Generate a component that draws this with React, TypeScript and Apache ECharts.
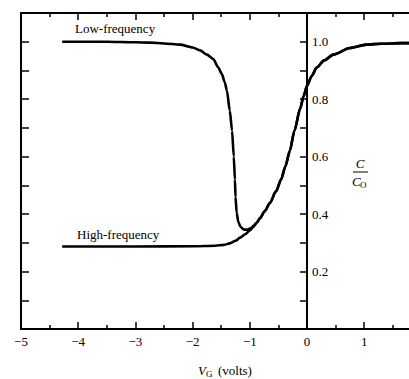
import React, { useEffect, useRef } from "react";
import * as echarts from "echarts";

// Tick values
const xTicks = [-5, -4, -3, -2, -1, 0, 1];
const yRightLabels = [0.2, 0.4, 0.6, 0.8, 1.0];

// Low-frequency branch (before it merges with the high-frequency curve)
const lowFreqX = [-4.28, -3.5, -3.0, -2.74, -2.5, -2.22, -2.0, -1.87, -1.75, -1.64, -1.55, -1.49, -1.44, -1.4, -1.35, -1.31, -1.28, -1.26, -1.25, -1.23, -1.2, -1.16, -1.1, -1.04, -0.98, -0.93];
const lowFreqC = [1.0, 1.0, 0.998, 0.997, 0.994, 0.99, 0.98, 0.97, 0.955, 0.94, 0.91, 0.888, 0.86, 0.83, 0.76, 0.69, 0.6, 0.52, 0.46, 0.405, 0.372, 0.355, 0.346, 0.346, 0.351, 0.36];

// High-frequency branch (before the merge)
const highFreqX = [-4.28, -3.0, -2.0, -1.6, -1.45, -1.35, -1.25, -1.17, -1.08, -1.0, -0.94];
const highFreqC = [0.287, 0.287, 0.288, 0.29, 0.293, 0.298, 0.307, 0.318, 0.33, 0.343, 0.355];

// Common part of both curves
const sharedX = [-0.88, -0.82, -0.74, -0.65, -0.54, -0.45, -0.38, -0.3, -0.22, -0.12, -0.06, 0, 0.08, 0.17, 0.3, 0.46, 0.75, 1.04, 1.3, 1.63, 2.0];
const sharedC = [0.37, 0.386, 0.41, 0.438, 0.48, 0.522, 0.565, 0.62, 0.69, 0.767, 0.81, 0.847, 0.88, 0.91, 0.935, 0.955, 0.978, 0.99, 0.993, 0.995, 0.996];

const pair = (xs: number[], ys: number[]) => xs.map((x, i) => [x, ys[i]]);

const FONT = "'Liberation Serif', 'Times New Roman', Times, serif";
const PX_PER_UNIT = 57.2;
const GRID_LEFT = 21;
const X_MIN = -5;
const X_MAX = 2;
const GRID_W = (X_MAX - X_MIN) * PX_PER_UNIT;
const ZERO_OFFSET = -(X_MAX - 0) * PX_PER_UNIT;

export default function App() {
  const ref = useRef<HTMLDivElement>(null);
  useEffect(() => {
    if (!ref.current) return;
    const chart = echarts.init(ref.current, undefined, { renderer: "svg" });
    const axisLine = { lineStyle: { color: "#000", width: 2 } };
    const fmtX = (v: number) => {
      const r = Math.round(v);
      if (Math.abs(v - r) > 1e-6 || !xTicks.includes(r)) return "";
      return r < 0 ? "\u2212" + Math.abs(r) : String(r);
    };
    const fmtYR = (v: number) => {
      const hit = yRightLabels.find((t) => Math.abs(t - v) < 1e-6);
      return hit === undefined ? "" : hit.toFixed(1);
    };
    const lowData = pair(lowFreqX, lowFreqC).concat(pair(sharedX, sharedC));
    const highData = pair(highFreqX, highFreqC).concat(pair(sharedX, sharedC));
    const lineSeries = (name: string, data: number[][]) => ({
      name,
      type: "line",
      data,
      showSymbol: false,
      smooth: 0.25,
      smoothMonotone: "x",
      lineStyle: { color: "#000", width: 2.6 },
      xAxisIndex: 0,
      yAxisIndex: 0,
    });
    chart.setOption({
      animation: false,
      backgroundColor: "#fff",
      grid: { left: GRID_LEFT, width: GRID_W, top: 13, bottom: 50, outerBoundsMode: "none", containLabel: false },
      xAxis: [
        {
          type: "value",
          position: "bottom",
          min: X_MIN,
          max: X_MAX,
          interval: 1,
          axisLine: { ...axisLine, onZero: false },
          axisTick: { inside: true, length: 7, lineStyle: { color: "#000", width: 1.5 } },
          minorTick: { show: true, splitNumber: 2, length: 4, lineStyle: { color: "#000", width: 1.5 } },
          splitLine: { show: false },
          axisLabel: { formatter: fmtX, color: "#000", fontFamily: FONT, fontSize: 13, margin: 6 },
        },
        {
          type: "value",
          position: "top",
          min: X_MIN,
          max: X_MAX,
          interval: 1,
          axisLine: { ...axisLine, onZero: false },
          axisTick: { inside: true, length: 7, lineStyle: { color: "#000", width: 1.5 } },
          minorTick: { show: true, splitNumber: 2, length: 4, lineStyle: { color: "#000", width: 1.5 } },
          splitLine: { show: false },
          axisLabel: { show: false },
        },
      ],
      yAxis: [
        {
          type: "value",
          position: "left",
          min: 0,
          max: 1.1,
          interval: 0.1,
          axisLine: { ...axisLine, onZero: false },
          axisTick: { inside: true, length: 8, lineStyle: { color: "#000", width: 1.5 } },
          splitLine: { show: false },
          axisLabel: { show: false },
        },
        {
          type: "value",
          position: "right",
          offset: ZERO_OFFSET,
          min: 0,
          max: 1.1,
          interval: 0.1,
          axisLine: { ...axisLine, onZero: false },
          axisTick: { inside: true, length: 7, lineStyle: { color: "#000", width: 1.5 } },
          splitLine: { show: false },
          axisLabel: { formatter: fmtYR, color: "#000", fontFamily: FONT, fontSize: 13, margin: 5 },
        },
      ],
      series: [lineSeries("Low-frequency", lowData), lineSeries("High-frequency", highData)],
      graphic: [
        { type: "text", left: 75, top: 22, style: { text: "Low-frequency", font: `13px ${FONT}`, fill: "#000" } },
        { type: "text", left: 77, top: 228, style: { text: "High-frequency", font: `13px ${FONT}`, fill: "#000" } },
        { type: "text", x: 360, y: 163, style: { text: "C", font: `italic 13px ${FONT}`, fill: "#000", align: "center", verticalAlign: "middle" } },
        { type: "line", shape: { x1: 353, y1: 172, x2: 368, y2: 172 }, style: { stroke: "#000", lineWidth: 1 } },
        { type: "text", x: 352, y: 181, style: { text: "C", font: `italic 13px ${FONT}`, fill: "#000", align: "left", verticalAlign: "middle" } },
        { type: "text", x: 360, y: 185, style: { text: "O", font: `9px ${FONT}`, fill: "#000", align: "left", verticalAlign: "middle" } },
        { type: "text", x: 198, y: 370, style: { text: "V", font: `italic 13px ${FONT}`, fill: "#000", align: "left", verticalAlign: "middle" } },
        { type: "text", x: 206, y: 374, style: { text: "G", font: `9px ${FONT}`, fill: "#000", align: "left", verticalAlign: "middle" } },
        { type: "text", x: 218, y: 370, style: { text: "(volts)", font: `13px ${FONT}`, fill: "#000", align: "left", verticalAlign: "middle" } },
      ],
    });
    return () => chart.dispose();
  }, []);
  return <div ref={ref} style={{ position: "fixed", left: 0, top: 0, width: 409, height: 379, overflow: "hidden" }} />;
}
